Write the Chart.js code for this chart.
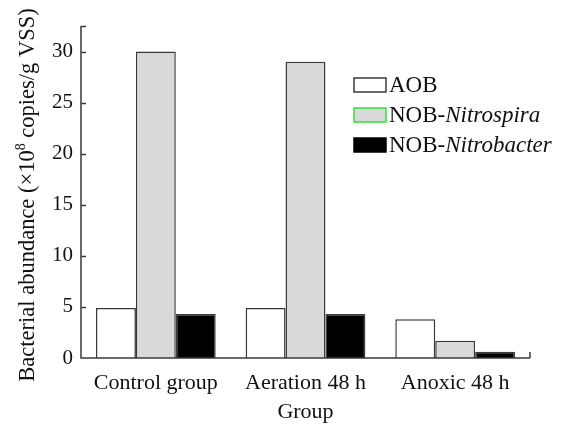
<!DOCTYPE html>
<html>
<head>
<meta charset="utf-8">
<script src="https://cdn.jsdelivr.net/npm/chart.js"></script>
<style>
  html, body { margin: 0; padding: 0; background: #fff; }
  #wrap { width: 561px; height: 425px; }
</style>
</head>
<body>
<div id="wrap"><canvas id="bars"></canvas></div>
<script>
// data (x10^8 copies/g VSS)
const groups = ['Control group', 'Aeration 48 h', 'Anoxic 48 h'];
const aob = [4.9, 4.9, 3.8];
const nitrospira = [30.0, 29.0, 1.7];
const nitrobacter = [4.3, 4.3, 0.6];
const yTicks = [0, 5, 10, 15, 20, 25, 30];
const yMax = 32.5;

const FONT = "'Liberation Serif', 'Times New Roman', serif";
const AXIS = '#3a3a3a';

// legend entries: [plain part, italic part, fill, stroke]
const legendItems = [
  ['AOB', '', '#ffffff', '#3a3a3a'],
  ['NOB-', 'Nitrospira', '#d9d9d9', '#33dd33'],
  ['NOB-', 'Nitrobacter', '#000000', '#000000']
];

// axes lines, inward ticks, y title and legend
const decorations = {
  id: 'decorations',
  afterDraw(chart) {
    const ctx = chart.ctx;
    const area = chart.chartArea;
    const y = chart.scales.y;
    ctx.save();
    ctx.strokeStyle = AXIS;
    ctx.lineWidth = 1.5;
    ctx.beginPath();
    ctx.moveTo(area.left, y.getPixelForValue(yMax));
    ctx.lineTo(area.left, area.bottom);
    ctx.lineTo(area.right, area.bottom);
    ctx.stroke();
    ctx.beginPath();
    yTicks.concat([yMax]).forEach(v => {
      const py = Math.round(y.getPixelForValue(v)) + 0.5;
      if (v === 0) return;
      ctx.moveTo(area.left, py);
      ctx.lineTo(area.left + 5, py);
    });
    ctx.moveTo(area.right, area.bottom);
    ctx.lineTo(area.right, area.bottom - 6);
    ctx.stroke();

    // y title with superscript
    ctx.fillStyle = '#111';
    ctx.textBaseline = 'middle';
    const big = '22.5px ' + FONT, small = '14px ' + FONT;
    const parts = [['Bacterial abundance (\u00d710', big, 0], ['8', small, -7], [' copies/g VSS)', big, 0]];
    let total = 0;
    parts.forEach(p => { ctx.font = p[1]; total += ctx.measureText(p[0]).width; });
    ctx.translate(28, 195);
    ctx.rotate(-Math.PI / 2);
    let tx = -total / 2;
    parts.forEach(p => {
      ctx.font = p[1];
      ctx.fillText(p[0], tx, p[2]);
      tx += ctx.measureText(p[0]).width;
    });
    ctx.setTransform(1, 0, 0, 1, 0, 0);

    // legend
    legendItems.forEach((it, i) => {
      const cy = 85 + i * 30;
      ctx.fillStyle = it[2];
      ctx.fillRect(354, cy - 7, 32, 14);
      ctx.strokeStyle = it[3];
      ctx.lineWidth = 1.5;
      ctx.strokeRect(354, cy - 7, 32, 14);
      ctx.fillStyle = '#111';
      ctx.font = '23px ' + FONT;
      ctx.fillText(it[0], 389, cy + 1);
      const w = ctx.measureText(it[0]).width;
      ctx.font = 'italic 23px ' + FONT;
      ctx.fillText(it[1], 389 + w, cy + 1);
    });
    ctx.restore();
  }
};

new Chart(document.getElementById('bars'), {
  type: 'bar',
  data: {
    labels: groups,
    datasets: [
      { label: 'AOB', data: aob, backgroundColor: '#ffffff', borderColor: AXIS, borderWidth: 1.5 },
      { label: 'NOB-Nitrospira', data: nitrospira, backgroundColor: '#d9d9d9', borderColor: AXIS, borderWidth: 1.5 },
      { label: 'NOB-Nitrobacter', data: nitrobacter, backgroundColor: '#000000', borderColor: AXIS, borderWidth: 1.5 }
    ]
  },
  options: {
    responsive: true,
    maintainAspectRatio: false,
    animation: false,
    layout: { padding: { top: 26, right: 31, left: 0, bottom: 0 } },
    datasets: { bar: { categoryPercentage: 0.8, barPercentage: 1.0 } },
    plugins: { legend: { display: false }, tooltip: { enabled: false } },
    scales: {
      x: {
        grid: { display: false, drawTicks: false },
        border: { display: false },
        ticks: { color: '#111', font: { family: FONT, size: 22 }, padding: 12, maxRotation: 0 },
        title: { display: true, text: 'Group', color: '#111', font: { family: FONT, size: 22 }, padding: { top: 0, bottom: 0 } },
        afterFit: s => { s.height = 67; }
      },
      y: {
        min: 0,
        max: yMax,
        grid: { display: false, drawTicks: false },
        border: { display: false },
        ticks: { stepSize: 5, color: '#111', font: { family: FONT, size: 21 }, padding: 8 },
        afterBuildTicks: s => { s.ticks = yTicks.map(v => ({ value: v })); },
        afterFit: s => { s.width = 81; }
      }
    }
  },
  plugins: [decorations]
});
</script>
</body>
</html>
